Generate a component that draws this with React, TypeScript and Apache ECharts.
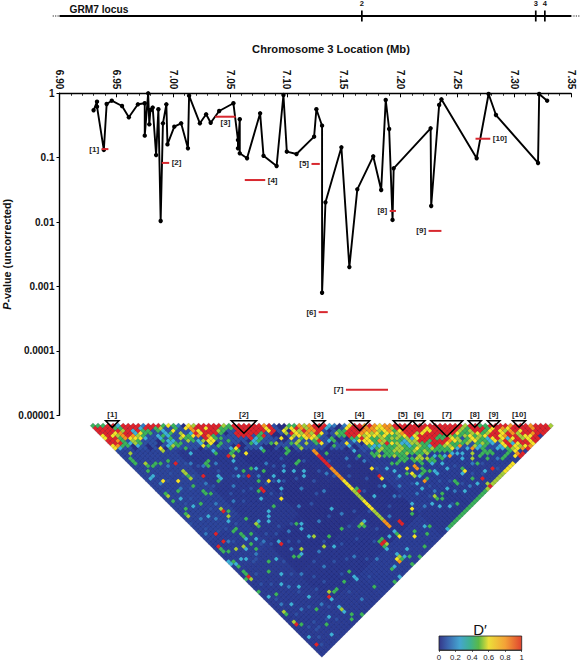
import React, { useEffect, useRef } from "react";
import * as echarts from "echarts";

const FONT = '"Liberation Sans", Arial, sans-serif';

// ---- association curve (Mb, uncorrected P) ----
const snpMb = [6.93,6.933,6.933,6.939,6.9415,6.946,6.955,6.961,6.969,6.975,6.975,6.978,6.979,6.98,6.982,6.985,6.987,6.989,6.991,6.994,6.995,7.001,7.007,7.013,7.014,7.0235,7.029,7.033,7.0405,7.053,7.057,7.057,7.0586,7.0586,7.065,7.0765,7.0795,7.091,7.097,7.1,7.1085,7.124,7.126,7.131,7.131,7.134,7.148,7.155,7.162,7.176,7.183,7.187,7.19,7.193,7.194,7.2265,7.227,7.234,7.236,7.267,7.2775,7.284,7.321,7.322,7.329];
const snpP = [0.545,0.741,0.62,0.132,0.682,0.768,0.635,0.424,0.675,0.7,0.22,1,0.33,0.55,0.6,0.11,0.565,0.0104,0.342,0.675,0.161,0.303,0.342,0.14,0.918,0.342,0.472,0.349,0.531,0.7,0.188,0.14,0.395,0.117,0.098,0.489,0.107,0.0743,0.94,0.124,0.114,0.212,0.565,0.314,0.0008,0.0203,0.145,0.002,0.0323,0.105,0.0315,0.787,0.279,0.0108,0.0684,0.286,0.0178,0.658,0.807,0.098,0.975,0.46,0.0828,0.975,0.768];

// ---- block-level results ----
const blockLabels = ["[1]","[2]","[3]","[4]","[5]","[6]","[7]","[8]","[9]","[10]"];
const blockStart = [6.937,6.99,7.037,7.063,7.1217,7.128,7.152,7.1905,7.2247,7.266];
const blockEnd = [6.943,6.9965,7.055,7.081,7.129,7.136,7.189,7.196,7.236,7.279];
const blockP = [0.136,0.083,0.433,0.045,0.08,0.0004,0.000025,0.0149,0.0073,0.197];
const blockSide = ["left","right","below","right","left","left","left","left","left","right"];

// ---- exons on the locus line ----
const exonNames = ["2","3","4"];
const exonMb = [7.166,7.319,7.327];
const locusSpan = [6.9,7.35];
const locusDotted = [[6.894,6.9],[7.35,7.358]];

// ---- axis ticks ----
const xTickStep = 0.05;
const yTickValues = [1,0.1,0.01,0.001,0.0001,0.00001];
const yTickLabels = ["1","0.1","0.01","0.001","0.0001","0.00001"];
const legendTicks = [0,0.2,0.4,0.6,0.8,1];

// ---- pairwise D' matrix: row r holds pairs (c, c+r+1) ----
const levelOf: Record<string, number> = { n:0.03, m:0.13, b:0.2, c:0.28, g:0.42, l:0.53, y:0.63, o:0.8, r:1 };
const markerCount = 93;
// typical background level by (marker i / 12, partner j / 12)
const backgroundByBlock = [
  [0.12,0.11,0.11,0.11,0.1,0.09,0.09,0.09],
  [0,0.1,0.08,0.08,0.08,0.06,0.07,0.09],
  [0,0,0.1,0.06,0.05,0.05,0.07,0.1],
  [0,0,0,0.1,0.06,0.05,0.06,0.1],
  [0,0,0,0,0.1,0.1,0.1,0.08],
  [0,0,0,0,0,0.1,0.1,0.09],
  [0,0,0,0,0,0,0.1,0.1],
  [0,0,0,0,0,0,0,0.1],
];
const topRows = [
  "gggrrcrrrr brrrgygbny lrrrrrlgrr rrrrormnng golorrrcbn byrroroyoo rrrrrrrrrr rrrrlrrggr rrrorrrorr rl",
  "rrrrggrrrc rrglmmgmyo rryrrgggrr rrrryrmnly rolorrcmnm yrrrooyyol rrrrrryrrr rrrlgrrrgy royrrrrorr r",
  "rrrrrlrcrg gmgcmymmmo yrrrlgmmrr rrrryrmnny lryormnmgg rrroyolyog yrrrryyrrr rrlglrrgyr yloryrrrrr",
  "rrryorrcyg gmmcgmlmcr yrrlgnmrrr rrgmrnmnly lolrymmmgr rroylygyyl orrlyrrrrr rygglyglrr yrolrrorr",
  "yrylorolgm mcgcmmmgyo rogmmmmrrr mgrmnnnmly lorgmnmggr rylyyolggl yrrrrrrryl gglyglyrry orrlyrr",
  "yrrgoyyycm mcmgmmcgmm rymgmmmmmr rgmmmnnmmg ymlmmgnmng grygylgllg lcyrrrrrry lmgylgcyrr yyrlyrr",
  "rrogmlgmmm ngcmmmlgcn yymmgmmmnc gmmmnnmmlm mgmmcgnmmc yyggglglgc llyrrrrroy lgmyggcylr lyrryr",
  "rrrgclgmmm nmcggmmmmn yngmmmnmmg mmnnmmgmmm mgmmnmmnmm nyyglgglcg llgmrrryll gmmglgcmyr yorry",
  "yoggncmnmn mcggmmmmng mgmmnmnmmm nnnmmmmgmm mmmnmmmmnm mgccggglgc glggrrylgg mmlcgmmcyr ylro",
  "ycmmnmmnmm ngmmmmmnmm mmmnnnmmmc nnmnmnmmmm mmnmmmnmnm mcmggglgcg lglgcyggcm mnggmmccgy rol",
];
const streakMarker = 39;
const streakFirstPartner = 50;
const streakLevels = "oorrrrroooooyyyyllllyyyyllllooo";
const redPairs = [9,25,12,33,9,44,25,34,21,34,21,42,21,47,21,48,23,27,38,42,42,49,55,63,50,55,51,55,62,69,64,70,64,72,65,72,66,73,67,74,47,68,67,89,67,92,71,89,42,81,40,67,79,92,3,47,3,50,1,50,1,62,14,62,13,82,1,81,1,89,35,82,34,82,42,82,81,88,82,92,80,92,79,87,83,91,85,91,87,91];
const orangePairs = [42,45,53,56,54,57,54,61,56,73,56,74,55,78,65,78,69,78,71,81,79,91,34,89,81,91];
const yellowPairs = [9,19,3,26,6,29,16,21,20,24,20,27,18,27,24,34,25,37,35,41,24,47,23,53,37,40,37,43,41,47,42,47,40,45,42,50,47,55,52,58,52,59,56,61,56,64,62,67,47,65,47,69,54,72,54,74,60,70,67,77,65,84,47,81,81,87,80,90,42,87,39,84,34,88,81,89,79,90,82,91,78,91,79,85,85,90,75,92,73,92,74,92,76,92];
const limePairs = [9,20,2,14,3,19,9,28,9,29,9,31,1,30,1,38,9,43,9,46,15,21,12,21,19,26,22,35,33,41,37,41,37,45,37,47,39,47,47,51,55,60,51,64,54,67,56,67,57,67,60,67,54,75,59,72,59,73,61,73,71,79,72,79,54,83,69,83,70,82,34,74,6,55,4,54,13,53,17,67,22,67,22,71,14,81,1,76,1,80,1,63,13,87,35,83,35,88,79,89,66,92,67,91,68,92,69,92,70,92,71,92,72,92,55,66,57,69,59,70,61,72,63,73,58,72,60,74,66,75,53,63,52,63];
const greenPairs = [1,15,1,16,1,17,3,20,2,21,4,21,5,21,6,22,8,23,14,37,9,30,8,33,1,29,1,32,4,31,9,36,9,37,10,38,6,38,2,36,1,37,10,45,11,21,16,22,14,24,19,28,19,31,16,31,15,31,15,32,23,34,22,34,24,35,29,40,28,36,32,40,34,44,34,45,33,45,34,49,33,49,21,40,23,41,25,44,22,45,20,47,20,53,13,54,12,50,21,61,8,50,22,28,24,28,26,28,48,51,48,52,48,53,44,53,41,53,54,60,57,64,47,60,51,60,51,63,53,64,53,66,58,69,55,70,53,73,56,76,56,78,65,76,56,84,55,85,54,84,61,84,61,85,57,89,65,83,65,87,69,85,71,84,40,66,33,74,46,82,47,88,76,89,77,89,1,51,1,52,2,53,7,50,8,52,8,53,8,56,10,54,8,58,1,56,1,58,1,60,1,61,0,62,8,63,6,65,0,67,3,71,15,68,14,67,25,70,29,71,22,81,19,82,16,82,15,82,8,82,1,77,2,82,7,87,14,90,13,91,16,92,24,89,29,92,36,92,39,92,42,91,45,89,43,86,39,83,35,81,34,81,34,83,35,89,37,90,31,89,34,75,78,89,75,89,51,92,52,92,53,92,54,92,55,92,56,92,57,92,58,92,59,92,60,92,61,92,62,92,63,92,64,92,65,92,50,62,50,63,52,62,52,65,53,65,54,64,54,65,54,66,55,67,55,68,56,68,57,68,58,68,58,70,59,71,60,71,60,72,61,71,62,72,62,73,63,74,64,74,65,74,65,75,66,76,66,77,68,76,68,77,69,77,70,78,52,68,53,69,54,69,55,69,56,69,56,70,57,71,57,72,58,73,58,74,57,75,57,76,58,77,60,75,61,75,61,76,63,76,63,77,72,84,73,84,73,85,74,85,74,86,72,86,64,75,63,71,64,71,66,72,67,72,67,73,68,73];
const cyanPairs = [2,23,1,23,15,37,15,36,3,33,4,37,5,42,13,20,18,26,19,30,14,26,23,33,21,36,30,36,29,37,19,40,24,42,26,47,26,49,29,48,31,50,33,52,32,53,25,51,19,49,18,53,17,54,22,62,47,56,47,58,59,67,50,68,51,70,51,72,53,79,53,77,59,78,59,79,62,78,62,80,67,79,67,81,58,84,52,84,53,86,55,88,61,88,64,84,65,89,69,88,42,71,46,71,48,80,31,65,50,92,80,88,8,47,8,54,10,56,14,53,16,55,14,61,16,68,10,64,4,58,3,57,1,57,0,55,0,56,8,68,6,70,1,70,9,74,21,66,21,63,24,73,22,83,22,84,9,78,4,76,1,86,6,90,9,86,13,83,13,86,13,88,31,92,46,87,38,88,39,82,37,82,34,84,35,87,36,89,32,89,35,74,6,56,80,86,63,72,62,75,55,76,60,76,64,77,66,78,68,80,70,80,72,82];
const paleBluePairs = [9,41,15,65,19,89,2,26,5,31,7,24,12,28,14,31,11,35,17,33,20,38,16,41,23,44,27,43,30,47,13,44,6,44,3,41,1,45,4,51,7,59,11,58,18,61,25,58,29,55,33,60,37,57,12,72,18,75,26,79,30,84,41,78,46,75,50,83,55,82,59,86,63,88,68,84,74,88,44,58,47,62,49,74,51,79,10,82,5,79,7,72,2,74,20,71,26,65,32,68];
const midBluePairs = [0,40,2,29,3,35,4,27,5,35,6,26,7,33,8,29,10,25,10,31,11,27,12,37,13,30,14,42,15,46,16,35,17,44,18,39,19,45,20,41,22,50,23,47,24,52,25,48,27,50,28,45,30,52,31,45,33,56,35,50,36,55,38,59,40,55,41,62,43,60,44,66,46,60,48,66,49,60,50,72,52,76,53,82,55,80,56,88,58,81,60,83,62,86,64,81,66,86,68,88,70,86,72,90,2,44,4,47,5,52,6,48,7,41,9,49,10,58,12,60,13,57,15,59,16,63,17,58,18,65,20,60,3,63,4,68,5,60,6,60,2,66,2,72,3,79,5,84,7,80,8,75,10,70,11,66,12,78,14,75,15,78,17,72,18,85,20,80,21,76,23,70,24,78,25,86,26,74,28,82,30,76,31,72,33,80,2,90,3,88,4,86,5,86,8,86,10,88,11,84,3,84,28,60,31,59,29,66,35,70,36,78,38,73,41,68,43,76,45,70,47,76];

// ---- haplotype blocks above the matrix, in half-marker units ----
const triStart = [5,55,87.2,102,119.4,127,134.4,149.2,156.8,166.8];
const triEnd = [10.3,65,92.3,110,127,132,147,154.4,161.8,172];

const rampStops = [
  [0,"#26277c"],[0.1,"#2b3f98"],[0.14,"#2f55a9"],[0.22,"#3487c8"],[0.3,"#3fbfdc"],[0.38,"#3bb36b"],[0.46,"#3bb54a"],[0.54,"#b5d334"],[0.62,"#f6e926"],[0.8,"#f7941d"],[1,"#e1232a"],
] as [number,string][];
const legendStops = [
  [0,"#343789"],[0.1,"#3b63ad"],[0.25,"#45a5d0"],[0.38,"#3fb28d"],[0.48,"#5ab947"],[0.6,"#ecdf3a"],[0.8,"#f4a237"],[1,"#e0432f"],
] as [number,string][];

function buildMatrix() {
  const cells = new Map<string, number>();
  const put = (i: number, j: number, v: number) => cells.set(i + "," + j, v);
  topRows.forEach((row, r) => {
    row.replace(/ /g, "").split("").forEach((ch, c) => put(c, c + r + 1, levelOf[ch]));
  });
  const addPairs = (pairs: number[], ch: string) => {
    for (let k = 0; k + 1 < pairs.length; k += 2) put(pairs[k], pairs[k + 1], levelOf[ch]);
  };
  addPairs(midBluePairs, "m");
  addPairs(paleBluePairs, "b");
  addPairs(cyanPairs, "c");
  addPairs(greenPairs, "g");
  addPairs(limePairs, "l");
  addPairs(yellowPairs, "y");
  addPairs(orangePairs, "o");
  addPairs(redPairs, "r");
  streakLevels.split("").forEach((ch, k) => put(streakMarker, streakFirstPartner + k, levelOf[ch]));
  const out: number[][] = [];
  for (let i = 0; i < markerCount; i++) {
    for (let j = i + 1; j < markerCount; j++) {
      const v = cells.get(i + "," + j);
      const bg = backgroundByBlock[Math.floor(i / 12)][Math.max(Math.floor(i / 12), Math.floor(j / 12))];
      out.push([i + j - 1, j - i - 1, v === undefined ? bg : v]);
    }
  }
  return out;
}

export default function App() {
  const ref = useRef<HTMLDivElement>(null);
  useEffect(() => {
    const chart = echarts.init(ref.current!, null, { renderer: "svg" });
    const plotLeft = 59.5;
    const plotWidth = 511.5;
    const lineData = snpMb.map((x, k) => [x, snpP[k]]);
    const blockData = blockLabels.map((_, k) => [blockStart[k], blockEnd[k], blockP[k], k]);
    const triData = triStart.map((s, k) => [s, triEnd[k], k]);
    const black = "#000";
    const noBounds = { outerBoundsMode: "none", containLabel: false };
    chart.setOption({
      animation: false,
      backgroundColor: "#fff",
      textStyle: { fontFamily: FONT },
      grid: [
        { left: plotLeft, width: plotWidth, top: 93.3, height: 322, ...noBounds },
        { left: plotLeft, width: plotWidth, top: 6, height: 20, ...noBounds },
        { left: 87.97, width: 467.79, top: 415.64, height: 241.44, ...noBounds },
        { left: 439, width: 82.7, top: 636, height: 14, ...noBounds },
      ],
      xAxis: [
        {
          type: "value", gridIndex: 0, position: "top", min: 6.9, max: 7.35, interval: xTickStep,
          axisLine: { show: true, onZero: false, lineStyle: { color: black, width: 1.4 } },
          axisTick: { show: true, inside: true, length: 4, lineStyle: { color: black, width: 1 } },
          minorTick: { show: true, splitNumber: 5, length: 2.5, lineStyle: { color: black, width: 0.8 } },
          splitLine: { show: false },
          axisLabel: { rotate: 90, margin: 4, fontFamily: FONT, fontWeight: "bold", fontSize: 10, color: "#111", showMinLabel: true, showMaxLabel: true, formatter: (v: number) => v.toFixed(2) },
        },
        { type: "value", gridIndex: 1, min: 6.9, max: 7.35, show: false },
        { type: "value", gridIndex: 2, min: -2, max: 184, show: false },
        {
          type: "value", gridIndex: 3, min: 0, max: 1, interval: 0.2, position: "bottom",
          axisLine: { show: true, onZero: false, lineStyle: { color: "#222", width: 0.8 } },
          axisTick: { show: true, length: 2, lineStyle: { color: "#222", width: 0.7 } },
          splitLine: { show: false },
          axisLabel: { margin: 3, fontFamily: FONT, fontSize: 7.8, color: "#222", showMinLabel: true, showMaxLabel: true, formatter: (v: number) => String(legendTicks.find((t) => Math.abs(t - v) < 1e-6) ?? v) },
        },
      ],
      yAxis: [
        {
          type: "log", logBase: 10, gridIndex: 0, min: yTickValues[5], max: yTickValues[0],
          axisLine: { show: true, onZero: false, lineStyle: { color: black, width: 1.4 } },
          axisTick: { show: true, length: 3, lineStyle: { color: black, width: 1 } },
          minorTick: { show: false }, splitLine: { show: false },
          axisLabel: {
            margin: 5, fontFamily: FONT, fontWeight: "bold", fontSize: 10, color: "#111", showMinLabel: true, showMaxLabel: true,
            formatter: (v: number) => { const k = yTickValues.findIndex((t) => Math.abs(Math.log10(t) - Math.log10(v)) < 1e-6); return k >= 0 ? yTickLabels[k] : ""; },
          },
          name: "{i|P}{b|-value (uncorrected)}", nameLocation: "middle", nameGap: 47, nameRotate: 90, nameMoveOverlap: false,
          nameTextStyle: { rich: { i: { fontFamily: FONT, fontStyle: "italic", fontWeight: "bold", fontSize: 10.8, color: "#111" }, b: { fontFamily: FONT, fontWeight: "bold", fontSize: 10.8, color: "#111" } } },
        },
        { type: "value", gridIndex: 1, min: 0, max: 1, show: false },
        { type: "value", gridIndex: 2, min: -4, max: 92, inverse: true, show: false },
        { type: "value", gridIndex: 3, min: 0, max: 1, show: false },
      ],
      visualMap: {
        show: false, type: "continuous", seriesIndex: 0, dimension: 2, min: 0, max: 1,
        inRange: { color: (() => { const c: string[] = []; for (let k = 0; k <= 100; k++) { const v = k / 100; let a = rampStops[0], b = rampStops[rampStops.length - 1]; for (let s = 0; s + 1 < rampStops.length; s++) { if (v >= rampStops[s][0] && v <= rampStops[s + 1][0]) { a = rampStops[s]; b = rampStops[s + 1]; break; } } const t = (v - a[0]) / (b[0] - a[0] || 1); c.push(echarts.color.lerp(t, [a[1], b[1]]) as string); } return c; })() },
      },
      series: [
        {
          type: "scatter", xAxisIndex: 2, yAxisIndex: 2, data: buildMatrix(), symbol: "diamond", symbolSize: 5.6,
          silent: true, itemStyle: { opacity: 1, borderColor: "rgba(20,20,70,0.5)", borderWidth: 0.35 }, emphasis: { disabled: true }, z: 2,
        },
        {
          type: "custom", xAxisIndex: 2, yAxisIndex: 2, data: triData, silent: true, clip: false, z: 5,
          renderItem: (_p: any, api: any) => {
            const s = api.value(0), e = api.value(1), k = api.value(2);
            const top = -2;
            const a = api.coord([s, top]), b = api.coord([e, top]), c = api.coord([(s + e) / 2, (e - s) / 2 + top]);
            return {
              type: "group",
              children: [
                { type: "polygon", shape: { points: [a, b, c] }, style: { fill: "none", stroke: "#000", lineWidth: 1.5, lineJoin: "miter" } },
                { type: "text", x: (a[0] + b[0]) / 2, y: a[1] - 6, style: { text: blockLabels[k], fontFamily: FONT, fontWeight: "bold", fontSize: 8, fill: "#222", align: "center", verticalAlign: "middle" } },
              ],
            };
          },
        },
        {
          type: "line", xAxisIndex: 0, yAxisIndex: 0, data: lineData, clip: false, symbol: "circle", symbolSize: 4.4, silent: true, z: 6,
          lineStyle: { color: "#000", width: 1.9 }, itemStyle: { color: "#000" },
        },
        {
          type: "custom", xAxisIndex: 0, yAxisIndex: 0, data: blockData, silent: true, clip: false, z: 7,
          renderItem: (_p: any, api: any) => {
            const k = api.value(3);
            const a = api.coord([api.value(0), api.value(2)]), b = api.coord([api.value(1), api.value(2)]);
            const side = blockSide[k];
            const tx = side === "left" ? a[0] - 2.5 : side === "right" ? b[0] + 2.5 : (a[0] + b[0]) / 2;
            const ty = side === "below" ? a[1] + 6 : a[1];
            return {
              type: "group",
              children: [
                { type: "line", shape: { x1: a[0], y1: a[1], x2: b[0], y2: b[1] }, style: { stroke: "#d8282f", lineWidth: 2 } },
                { type: "text", x: tx, y: ty, style: { text: blockLabels[k], fontFamily: FONT, fontWeight: "bold", fontSize: 8, fill: "#222", align: side === "left" ? "right" : side === "right" ? "left" : "center", verticalAlign: "middle" } },
              ],
            };
          },
        },
        {
          type: "custom", xAxisIndex: 1, yAxisIndex: 1, data: [[locusSpan[0], locusSpan[1], 0.5]], silent: true, clip: false, z: 4,
          renderItem: (_p: any, api: any) => {
            const a = api.coord([api.value(0), api.value(2)]), b = api.coord([api.value(1), api.value(2)]);
            const dotted = locusDotted.map((d) => {
              const p = api.coord([d[0], 0.5]), q = api.coord([d[1], 0.5]);
              return { type: "line", shape: { x1: p[0], y1: p[1], x2: q[0], y2: q[1] }, style: { stroke: "#222", lineWidth: 1.2, lineDash: [1.2, 1.2] } };
            });
            return { type: "group", children: [{ type: "line", shape: { x1: a[0], y1: a[1], x2: b[0], y2: b[1] }, style: { stroke: "#000", lineWidth: 1.8 } }, ...dotted] };
          },
        },
        {
          type: "custom", xAxisIndex: 1, yAxisIndex: 1, data: exonMb.map((x, k) => [x, k]), silent: true, clip: false, z: 4,
          renderItem: (_p: any, api: any) => {
            const p = api.coord([api.value(0), 0.5]);
            return {
              type: "group",
              children: [
                { type: "line", shape: { x1: p[0], y1: p[1] - 5.5, x2: p[0], y2: p[1] + 5.5 }, style: { stroke: "#000", lineWidth: 1.7 } },
                { type: "text", x: p[0], y: p[1] - 12.7, style: { text: exonNames[api.value(1)], fontFamily: FONT, fontWeight: "bold", fontSize: 7.5, fill: "#111", align: "center", verticalAlign: "middle" } },
              ],
            };
          },
        },
        {
          type: "custom", xAxisIndex: 3, yAxisIndex: 3, data: [[0, 1]], silent: true, z: 3,
          renderItem: (_p: any, api: any) => {
            const a = api.coord([0, 1]), b = api.coord([1, 0]);
            return {
              type: "rect", shape: { x: a[0], y: a[1], width: b[0] - a[0], height: b[1] - a[1] },
              style: { stroke: "#222", lineWidth: 0.8, fill: new echarts.graphic.LinearGradient(0, 0, 1, 0, legendStops.map(([o, c]) => ({ offset: o, color: c }))) },
            };
          },
        },
      ],
      graphic: [
        { type: "text", x: 69.5, y: 9.5, style: { text: "GRM7 locus", fontFamily: FONT, fontWeight: "bold", fontSize: 10.2, fill: "#111", verticalAlign: "middle" } },
        { type: "text", x: 331, y: 49, style: { text: "Chromosome 3 Location (Mb)", fontFamily: FONT, fontWeight: "bold", fontSize: 11.2, fill: "#111", align: "center", verticalAlign: "middle" } },
        { type: "text", x: 480, y: 629, style: { text: "D′", fontFamily: FONT, fontSize: 15, fill: "#111", align: "center", verticalAlign: "middle" } },
      ],
    });
    return () => chart.dispose();
  }, []);
  return <div ref={ref} style={{ position: "absolute", left: 0, top: 0, width: 580, height: 661 }} />;
}
